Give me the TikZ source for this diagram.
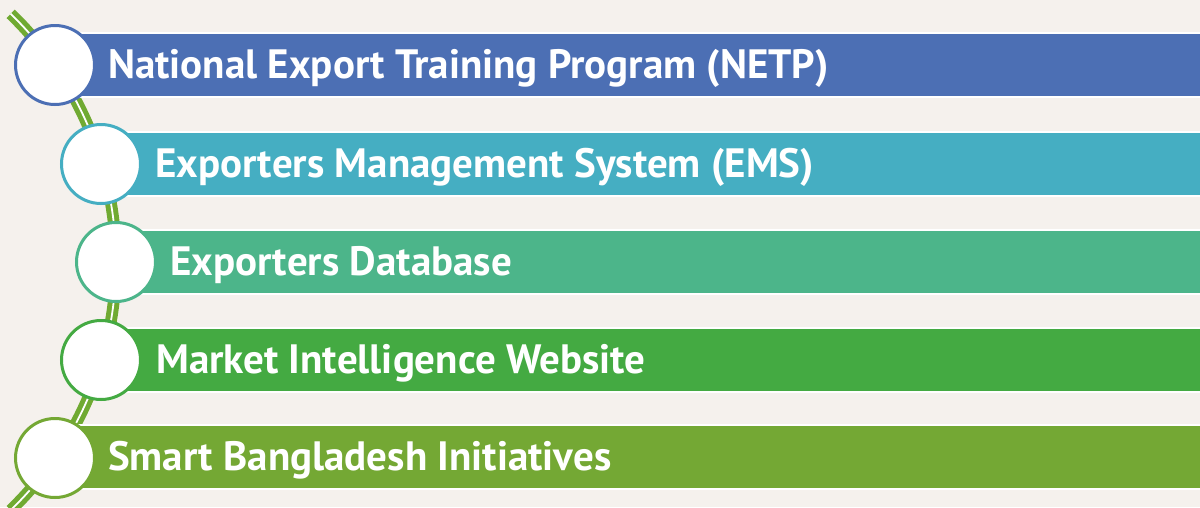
\documentclass[tikz,border=0pt]{standalone}
\usepackage{fontspec}
\setmainfont{PT Sans}
\definecolor{bgc}{RGB}{245,241,237}
\definecolor{cA}{RGB}{76,111,180}
\definecolor{cB}{RGB}{69,174,194}
\definecolor{cC}{RGB}{76,181,138}
\definecolor{cD}{RGB}{68,170,66}
\definecolor{cE}{RGB}{116,168,52}
\definecolor{lineg}{RGB}{112,170,50}
\begin{document}
\begin{tikzpicture}[x=1pt,y=1pt,
  bar/.style={draw=white, line width=2.2pt, rectangle, anchor=west, minimum height=64pt, inner sep=0pt},
  dot/.style={circle, fill=white, line width=3pt, minimum size=79pt, inner sep=0pt},
  lbl/.style={anchor=base west, text=white, font=\fontsize{41}{48}\selectfont\bfseries, inner sep=0pt},
  track/.style={draw=lineg, line width=5pt, double=white, double distance=1.8pt}
]
\useasboundingbox (0,0) rectangle (1200,-507);
\fill[bgc] (0,0) rectangle (1200,-507);
\coordinate (arcc) at (-229,-262);
\draw[track] ([shift={(46:345pt)}]arcc) arc[start angle=46, end angle=-46, radius=345pt];
% bars
\node[bar, fill=cA, minimum width=1150pt] (b1) at (55,-65) {};
\node[bar, fill=cB, minimum width=1104pt] (b2) at (101,-164) {};
\node[bar, fill=cC, minimum width=1089pt] (b3) at (116,-262) {};
\node[bar, fill=cD, minimum width=1104pt] (b4) at (101,-360) {};
\node[bar, fill=cE, minimum width=1150pt] (b5) at (55,-457) {};
% circles
\node[dot, draw=cA] (c1) at (55,-65) {};
\node[dot, draw=cB] (c2) at (101,-164) {};
\node[dot, draw=cC] (c3) at (116,-262) {};
\node[dot, draw=cD] (c4) at (101,-360) {};
\node[dot, draw=cE] (c5) at (55,-458) {};
% labels
\node[lbl] (t1) at (108,-78) {National Export Training Program (NETP)};
\node[lbl] (t2) at (155,-177) {Exporters Management System (EMS)};
\node[lbl] (t3) at (170,-275) {Exporters Database};
\node[lbl] (t4) at (156,-373) {Market Intelligence Website};
\node[lbl] (t5) at (108,-470) {Smart Bangladesh Initiatives};
\end{tikzpicture}
\end{document}
